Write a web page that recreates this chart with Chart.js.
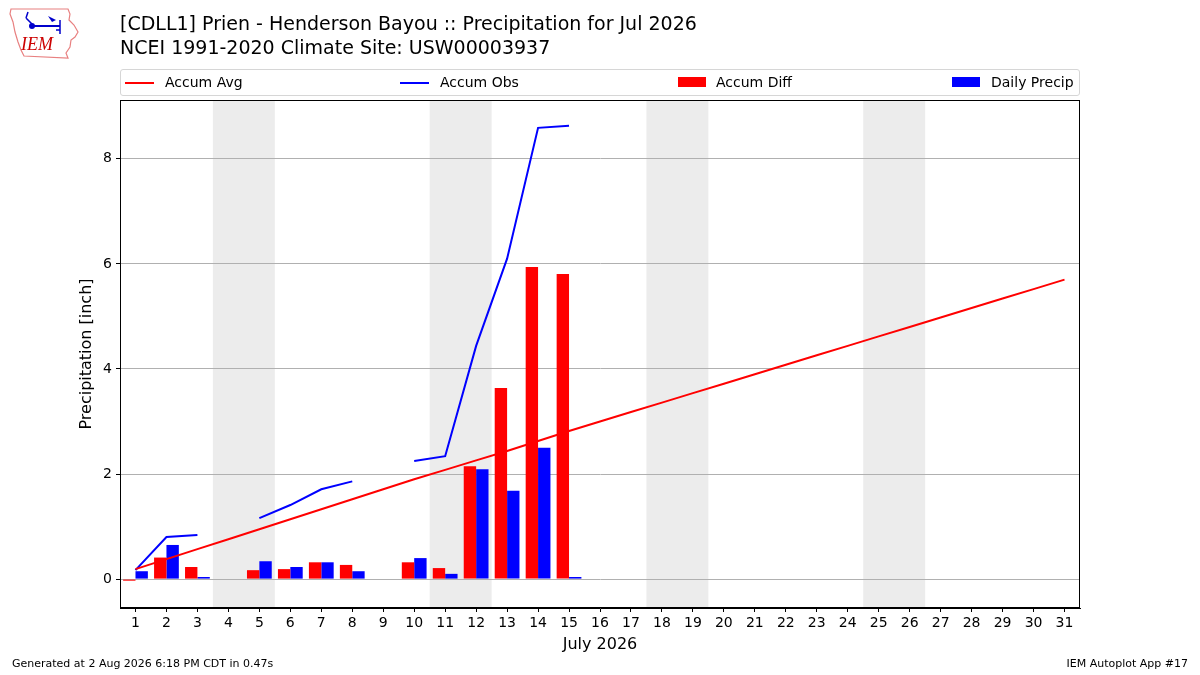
<!DOCTYPE html>
<html>
<head>
<meta charset="utf-8">
<script src="https://cdn.jsdelivr.net/npm/chart.js@4.4.1/dist/chart.umd.min.js"></script>
<style>
  body { margin: 0; background: #fff; font-family: "DejaVu Sans", sans-serif; }
  #wrap { position: relative; width: 1200px; height: 675px; overflow: hidden; }
  #myChart { position: absolute; left: 0; top: 0; }
  .title { position: absolute; left: 120px; font-size: 19px; color: #000; white-space: nowrap; }
  #legend { position: absolute; left: 120px; top: 69px; width: 958px; height: 25px;
            border: 1px solid #d6d6d6; border-radius: 3px; font-size: 14px; }
  .leg { position: absolute; top: 4px; white-space: nowrap; }
  .leg .ln { position: absolute; top: 8px; width: 29px; height: 2px; }
  .leg .bx { position: absolute; top: 3px; width: 28px; height: 10px; }
  .footer { position: absolute; top: 657px; font-size: 11px; white-space: nowrap; }
  #logo { position: absolute; left: 6px; top: 4px; }
</style>
</head>
<body>
<div id="wrap">
  <canvas id="myChart" width="1200" height="675"></canvas>
  <svg id="logo" width="76" height="56" viewBox="0 0 76 56">
    <path d="M5,5 L62,5 L64,10 L63,16 L68,21 L72,28 L69,33 L65,36 L64,43 L60,49 L62,54 L18,52 L15,46 L12,38 L9,28 L7,18 L4,10 Z"
          fill="none" stroke="#e88080" stroke-width="1.2"/>
    <line x1="26" y1="22" x2="54" y2="22" stroke="#0000cc" stroke-width="2"/>
    <circle cx="26" cy="22" r="3" fill="#0000cc"/>
    <path d="M20,14 L22,8 M20,14 L26,20" stroke="#0000cc" stroke-width="1.5" fill="none"/>
    <path d="M42,12 L50,16 L46,18 Z" fill="#0000cc"/>
    <path d="M54,16 L54,30 M50,26 L54,26" stroke="#0000cc" stroke-width="1.5" fill="none"/>
    <text x="15" y="46" font-family="Liberation Serif, DejaVu Serif, serif" font-style="italic" font-size="18" fill="#cc0000">IEM</text>
  </svg>
  <div class="title" style="top:12px">[CDLL1] Prien - Henderson Bayou :: Precipitation for Jul 2026</div>
  <div class="title" style="top:36px">NCEI 1991-2020 Climate Site: USW00003937</div>
  <div id="legend">
    <div class="leg" style="left:4px"><span class="ln" style="left:0;background:#ff0000"></span><span style="margin-left:40px">Accum Avg</span></div>
    <div class="leg" style="left:279px"><span class="ln" style="left:0;background:#0000ff"></span><span style="margin-left:40px">Accum Obs</span></div>
    <div class="leg" style="left:557px"><span class="bx" style="left:0;background:#ff0000"></span><span style="margin-left:38px">Accum Diff</span></div>
    <div class="leg" style="left:831px"><span class="bx" style="left:0;background:#0000ff"></span><span style="margin-left:39px">Daily Precip</span></div>
  </div>
  <div class="footer" style="left:12px">Generated at 2 Aug 2026 6:18 PM CDT in 0.47s</div>
  <div class="footer" style="right:12px">IEM Autoplot App #17</div>
</div>
<script>
// days of July 2026
const days = ['1','2','3','4','5','6','7','8','9','10','11','12','13','14','15','16',
  '17','18','19','20','21','22','23','24','25','26','27','28','29','30','31'];

// climatology accumulated precip (inch)
const accumAvg = [0.19, 0.38, 0.57, 0.76, 0.95, 1.14, 1.33, 1.52, 1.71, 1.90, 2.08,
  2.26, 2.44, 2.63, 2.82, 3.00, 3.18, 3.36, 3.54, 3.72, 3.90, 4.08, 4.26, 4.44,
  4.62, 4.80, 4.98, 5.16, 5.34, 5.52, 5.70];

// observed accumulated precip, gaps where missing
const accumObs = [0.17, 0.80, 0.84, null, 1.16, 1.41, 1.71, 1.86, null, 2.25, 2.34,
  4.44, 6.10, 8.59, 8.63, null, null, null, null, null, null, null, null, null,
  null, null, null, null, null, null, null];

const accumDiff = [-0.03, 0.41, 0.23, null, 0.17, 0.19, 0.32, 0.27, null, 0.32, 0.21,
  2.15, 3.64, 5.94, 5.81, null, null, null, null, null, null, null, null, null,
  null, null, null, null, null, null, null];

const dailyPrecip = [0.15, 0.65, 0.04, null, 0.34, 0.23, 0.32, 0.15, null, 0.40, 0.10,
  2.09, 1.68, 2.50, 0.04, null, null, null, null, null, null, null, null, null,
  null, null, null, null, null, null, null];

// weekend shading (first day of each Sat/Sun pair)
const weekendStarts = [4, 11, 18, 25];

const yTicks = [0, 2, 4, 6, 8];

const fontFamily = '"DejaVu Sans", sans-serif';

const shadePlugin = {
  id: 'shade',
  beforeDraw(chart) {
    const { ctx, chartArea, scales } = chart;
    ctx.save();
    ctx.fillStyle = '#ececec';
    weekendStarts.forEach(d => {
      // category index = day - 1, band covers day-0.5 .. day+1.5
      const x0 = scales.x.getPixelForValue(d - 1.5);
      const x1 = scales.x.getPixelForValue(d + 0.5);
      ctx.fillRect(x0, chartArea.top, x1 - x0, chartArea.bottom - chartArea.top);
    });
    ctx.restore();
  },
  afterDraw(chart) {
    const { ctx, chartArea } = chart;
    ctx.save();
    ctx.strokeStyle = '#000';
    ctx.lineWidth = 1;
    ctx.strokeRect(chartArea.left + 0.5, chartArea.top + 0.5,
      chartArea.right - chartArea.left - 1, chartArea.bottom - chartArea.top - 1);
    ctx.restore();
  }
};

const data = {
  labels: days,
  datasets: [
    {
      type: 'line',
      label: 'Accum Avg',
      data: accumAvg,
      borderColor: '#ff0000',
      borderWidth: 2,
      pointRadius: 0,
      order: 0,
    },
    {
      type: 'line',
      label: 'Accum Obs',
      data: accumObs,
      borderColor: '#0000ff',
      borderWidth: 2,
      pointRadius: 0,
      spanGaps: false,
      order: 0,
    },
    {
      type: 'bar',
      label: 'Accum Diff',
      data: accumDiff,
      backgroundColor: '#ff0000',
      categoryPercentage: 0.8,
      barPercentage: 1.0,
      order: 1,
    },
    {
      type: 'bar',
      label: 'Daily Precip',
      data: dailyPrecip,
      backgroundColor: '#0000ff',
      categoryPercentage: 0.8,
      barPercentage: 1.0,
      order: 1,
    },
  ],
};

const config = {
  type: 'bar',
  data,
  plugins: [shadePlugin],
  options: {
    responsive: false,
    animation: false,
    layout: { padding: { top: 100, right: 120, left: 0, bottom: 0 } },
    plugins: {
      legend: { display: false },
      tooltip: { enabled: false },
    },
    scales: {
      x: {
        offset: true,
        grid: { display: true, offset: false, drawOnChartArea: false, drawTicks: true,
                tickLength: 4, tickColor: '#000', color: '#000' },
        border: { display: true, color: '#000' },
        ticks: { color: '#000', font: { family: fontFamily, size: 14 }, padding: 3,
                 maxRotation: 0, autoSkip: false },
        title: { display: true, text: 'July 2026', color: '#000',
                 font: { family: fontFamily, size: 16 }, padding: { top: 21, bottom: 21 } },
        afterFit(scale) { scale.height = 67; },
      },
      y: {
        min: -0.55,
        max: 9.12,
        grid: { color: '#b0b0b0', lineWidth: 1, drawTicks: true, tickLength: 4, tickColor: '#000' },
        border: { display: true, color: '#000' },
        ticks: {
          stepSize: 2,
          includeBounds: false,
          color: '#000',
          padding: 4,
          font: { family: fontFamily, size: 14 },
          callback: v => (yTicks.includes(v) ? String(v) : ''),
        },
        title: { display: true, text: 'Precipitation [inch]', color: '#000',
                 font: { family: fontFamily, size: 16 }, padding: { top: 77, bottom: 77 } },
        afterFit(scale) { scale.width = 120; },
      },
    },
  },
};

window.myChart = new Chart(document.getElementById('myChart'), config);
</script>
</body>
</html>
